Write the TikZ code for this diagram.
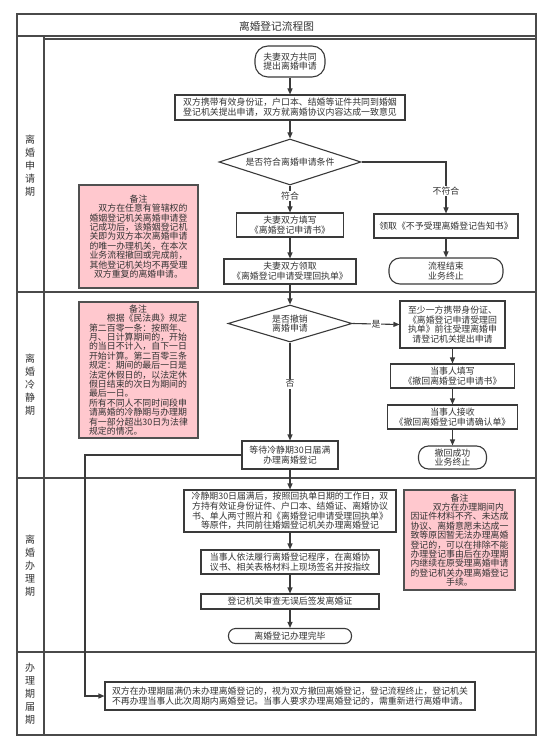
\documentclass[tikz,border=0pt]{standalone}
\usepackage{fontspec}
\setmainfont{Noto Sans CJK SC}
\usetikzlibrary{arrows.meta,shapes.geometric}
\definecolor{linec}{HTML}{3A3A3A}
\definecolor{framec}{HTML}{4A4A4A}
\definecolor{txt}{HTML}{333333}
\definecolor{notefill}{HTML}{FFC8CE}
\definecolor{notec}{HTML}{505050}
\newcommand\tsz{\fontsize{8.9pt}{9.8pt}\selectfont}
\newcommand\nsz{\fontsize{8.9pt}{9.4pt}\selectfont}
\newcommand\lsz{\fontsize{10pt}{13pt}\selectfont}
\newcommand\ttsz{\fontsize{10.7pt}{12pt}\selectfont}
\tikzset{
  base/.style={draw=linec, line width=1.1pt, fill=white, inner sep=0pt, align=center, font=\tsz, text=txt},
  procbox/.style={base, rectangle},
  termbox/.style={base, rectangle, rounded corners=#1},
  termbox/.default=10pt,
  decbox/.style={base, diamond, aspect=3},
  notebox/.style={draw=notec, line width=1.1pt, fill=notefill, inner sep=0pt, font=\nsz, text=txt},
  arr/.style={draw=linec, line width=1.1pt, -{Triangle[length=6pt,width=5pt]}},
  lbl/.style={fill=white, inner sep=1pt, font=\tsz, text=txt},
  lanelbl/.style={font=\lsz, align=center, text=txt, inner sep=0pt},
  frameline/.style={draw=framec, line width=1.4pt},
}
\begin{document}
\begin{tikzpicture}[x=1pt,y=-1pt]
\useasboundingbox (0,0) rectangle (554,751);
% frame and lanes
\draw[frameline] (17,14) rectangle (536,735);
\draw[frameline] (17,36) -- (536,36);
\draw[draw=framec, line width=2pt] (44,39.5) -- (536,39.5);
\draw[frameline] (44,36) -- (44,735);
\draw[frameline] (17,292) -- (536,292);
\draw[frameline] (17,478) -- (536,478);
\draw[frameline] (17,652) -- (536,652);
\node[font=\ttsz, text=txt] (title) at (276.5,26) {离婚登记流程图};
\node[lanelbl] (lane1) at (30,166) {离\\婚\\申\\请\\期};
\node[lanelbl] (lane2) at (30,385) {离\\婚\\冷\\静\\期};
\node[lanelbl] (lane3) at (30,566) {离\\婚\\办\\理\\期};
\node[lanelbl] (lane4) at (30,694) {办\\理\\期\\届\\期};

% lane 1
\node[termbox=13pt, minimum width=70pt, minimum height=31pt] (start) at (290,61.5) {夫妻双方共同\\提出离婚申请};
\node[procbox, minimum width=230pt, minimum height=25pt] (b2) at (290,107.5) {双方携带有效身份证，户口本、结婚等证件共同到婚姻\\登记机关提出申请，双方就离婚协议内容达成一致意见};
\node[decbox, minimum width=142pt, minimum height=46pt] (d1) at (290,162) {是否符合离婚申请条件};
\node[procbox, minimum width=107pt, minimum height=24pt] (bfill) at (290,225) {夫妻双方填写\\《离婚登记申请书》};
\node[procbox, minimum width=144pt, minimum height=24pt] (bnot) at (446,226) {领取《不予受理离婚登记告知书》};
\node[procbox, minimum width=132pt, minimum height=25pt] (breceipt) at (290,271.5) {夫妻双方领取\\《离婚登记申请受理回执单》};
\node[termbox=11pt, minimum width=114pt, minimum height=26pt] (end1) at (446,271) {流程结束\\业务终止};
\node[notebox, minimum width=119pt, minimum height=103pt, align=center] (note1) at (138.5,236.5) {备注\\\hspace*{1em}双方在任意有管辖权的\\婚姻登记机关离婚申请登\\记成功后，该婚姻登记机\\关即为双方本次离婚申请\\的唯一办理机关，在本次\\业务流程撤回或完成前，\\其他登记机关均不再受理\\双方重复的离婚申请。};

% lane 2
\node[decbox, minimum width=124pt, minimum height=37pt] (d2) at (290,323.5) {是否撤销\\离婚申请};
\node[procbox, minimum width=105pt, minimum height=47pt] (bleast) at (452.5,324.5) {至少一方携带身份证、\\《离婚登记申请受理回\\执单》前往受理离婚申\\请登记机关提出申请};
\node[procbox, minimum width=124pt, minimum height=24pt] (bfill2) at (452.5,376) {当事人填写\\《撤回离婚登记申请书》};
\node[procbox, minimum width=130pt, minimum height=24pt] (baccept) at (452.5,417) {当事人接收\\《撤回离婚登记申请确认单》};
\node[termbox=10pt, minimum width=68pt, minimum height=23pt] (end2) at (452.5,457.5) {撤回成功\\业务终止};
\node[procbox, minimum width=96pt, minimum height=28pt] (bwait) at (290,455) {等待冷静期30日届满\\办理离婚登记};
\node[notebox, minimum width=119pt, minimum height=136pt, align=left] (note2) at (138.5,370) {\hspace*{4.5em}备注\\\hspace*{2em}根据《民法典》规定\\第二百零一条：按照年、\\月、日计算期间的，开始\\的当日不计入，自下一日\\开始计算。第二百零三条\\规定：期间的最后一日是\\法定休假日的，以法定休\\假日结束的次日为期间的\\最后一日。\\所有不同人不同时间段申\\请离婚的冷静期与办理期\\有一部分超出30日为法律\\规定的情况。};

% lane 3
\node[procbox, minimum width=212pt, minimum height=42pt] (bcool) at (290,511) {冷静期30日届满后，按照回执单日期的工作日，双\\方持有效证身份证件、户口本、结婚证、离婚协议\\书、单人两寸照片和《离婚登记申请受理回执单》\\等原件，共同前往婚姻登记机关办理离婚登记};
\node[procbox, minimum width=178pt, minimum height=24pt] (blaw) at (290,562) {当事人依法履行离婚登记程序，在离婚协\\议书、相关表格材料上现场签名并按指纹};
\node[procbox, minimum width=178pt, minimum height=15pt] (bcheck) at (290,601.5) {登记机关审查无误后签发离婚证};
\node[termbox=7pt, minimum width=123pt, minimum height=15pt] (end3) at (290,636) {离婚登记办理完毕};
\node[notebox, minimum width=111pt, minimum height=100pt, align=center] (note3) at (459.5,540) {备注\\\hspace*{2em}双方在办理期间内\\因证件材料不齐、未达成\\协议、离婚意愿未达成一\\致等原因暂无法办理离婚\\登记的，可以在排除不能\\办理登记事由后在办理期\\内继续在原受理离婚申请\\的登记机关办理离婚登记\\手续。};

% lane 4
\node[procbox, minimum width=370pt, minimum height=28pt] (final) at (290,696) {双方在办理期届满仍未办理离婚登记的，视为双方撤回离婚登记，登记流程终止，登记机关\\不再办理当事人此次周期内离婚登记。当事人要求办理离婚登记的，需重新进行离婚申请。};
\coordinate (turn) at (85,696);

% connectors
\draw[arr] (start) -- (b2);
\draw[arr] (b2) -- (d1);
\draw[arr] (d1.south) -- node[lbl, pos=0.4]{符合} (bfill);
\draw[arr] (d1.east) -| node[lbl, pos=0.78]{不符合} (bnot.north);
\draw[arr] (bfill) -- (breceipt);
\draw[arr] (bnot) -- (end1);
\draw[arr] (breceipt) -- (d2);
\draw[arr] (d2.east) -- node[lbl]{是} (bleast.west);
\draw[arr] (bleast) -- (bfill2);
\draw[arr] (bfill2) -- (baccept);
\draw[arr] (baccept) -- (end2);
\draw[arr] (d2.south) -- node[lbl, pos=0.42]{否} (bwait);
\draw[arr] (bwait) -- (bcool);
\draw[arr] (bcool) -- (blaw);
\draw[arr] (blaw) -- (bcheck);
\draw[arr] (bcheck) -- (end3);
\draw[arr] (bwait.west) -| (turn) -- (final.west);
\end{tikzpicture}
\end{document}
